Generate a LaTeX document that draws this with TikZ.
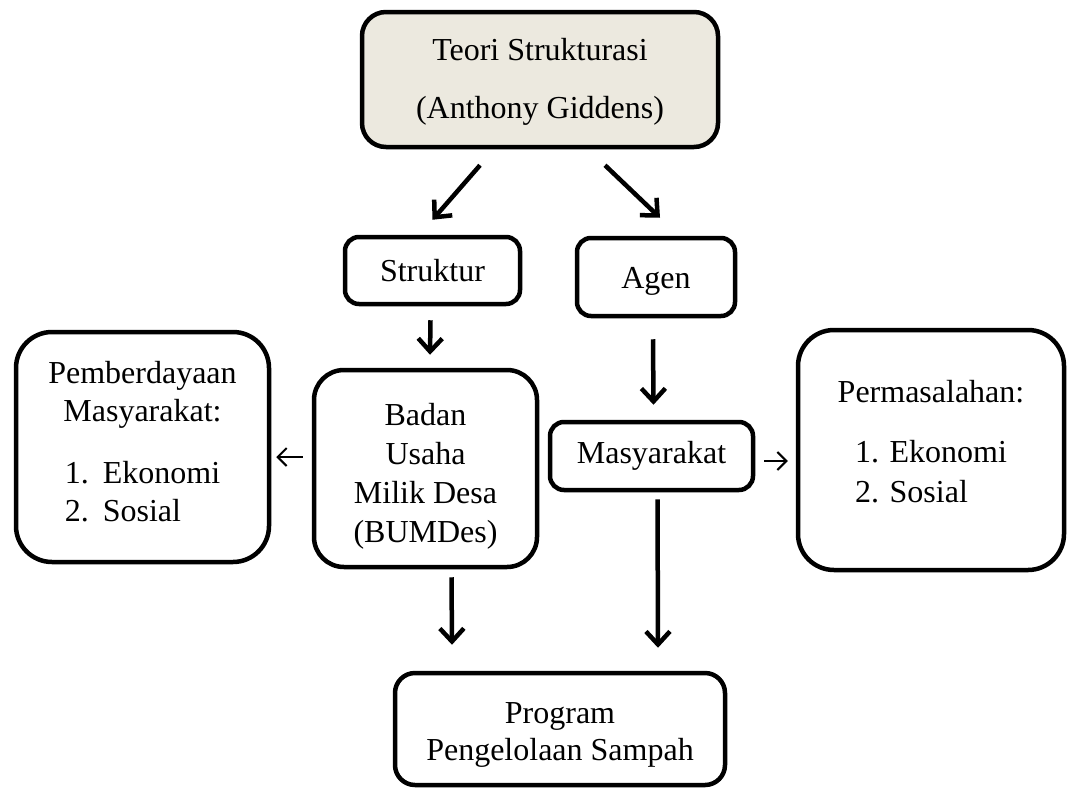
\documentclass[tikz,border=0pt]{standalone}
\usepackage{fontspec}
\setmainfont{Liberation Serif}
\usetikzlibrary{arrows.meta,positioning,calc}
\definecolor{beige}{HTML}{ECE9DF}
\tikzset{
  kotak/.style={draw=black,line width=4.5pt,rounded corners=14pt,fill=white,align=center,inner sep=0pt},
  teori/.style={kotak,fill=beige,rounded corners=24pt},
  arr/.style={-{Straight Barb[length=13pt,width=24pt]},line width=4.5pt},
  arrthin/.style={-{Straight Barb[length=9pt,width=18pt]},line width=2pt}
}

\begin{document}
\begin{tikzpicture}[x=1pt,y=-1pt,font=\fontsize{32}{38}\selectfont]
  \useasboundingbox (0,0) rectangle (1067,787);
  \node[teori,minimum width=356pt,minimum height=135pt] (teori) at (540,79.5) {\rule{0pt}{26pt}Teori Strukturasi\\[20pt](Anthony Giddens)};
  \node[kotak,minimum width=175pt,minimum height=67pt] (struktur) at (432.5,270.5) {Struktur};
  \node[kotak,minimum width=158pt,minimum height=78pt] (agen) at (656,277) {\rule{0pt}{29pt}Agen};
  \node[kotak,rounded corners=30pt,minimum width=223pt,minimum height=197pt,font=\fontsize{32}{39}\selectfont] (bumdes) at (425.5,468.5) {\rule{0pt}{37pt}Badan\\Usaha\\Milik Desa\\(BUMDes)};
  \node[kotak,minimum width=203pt,minimum height=68pt] (masy) at (651.5,456) {Masyarakat};
  % kotak kiri dan kanan
  \node[kotak,rounded corners=36pt,minimum width=253pt,minimum height=230pt] (berdaya) at (142.5,447) {Pemberdayaan\\Masyarakat:\\[24pt]\begin{tabular}[t]{@{}l@{}}1.\hspace{14pt}Ekonomi\\2.\hspace{14pt}Sosial\end{tabular}};
  \node[kotak,rounded corners=36pt,minimum width=266pt,minimum height=240pt] (masalah) at (931,450) {};
  \node[anchor=north,align=center,inner sep=0pt] (masalahtxt) at (931,380) {Permasalahan:\\[22pt]\begin{tabular}[t]{@{}l@{}}1. Ekonomi\\[2pt]2. Sosial\end{tabular}};
  \node[kotak,rounded corners=20pt,minimum width=330pt,minimum height=112pt,font=\fontsize{32}{37}\selectfont] (program) at (560,729) {\rule{0pt}{32pt}Program\\Pengelolaan Sampah};
  % panah
  \draw[arr] ($(teori.south)+(-60,16)$) -- ($(struktur.north)+(0,-15)$);
  \draw[arr] ($(teori.south)+(65,16)$) -- ($(agen.north)+(4,-18)$);
  \draw[arr] ($(struktur.south)+(-2,14)$) -- ($(bumdes.north)+(4.5,-13)$);
  \draw[arr] ($(agen.south)+(-3,21)$) -- ($(masy.north)+(2,-15)$);
  \draw[arr] ($(bumdes.south)+(26,8)$) -- ($(program.north)+(-108,-26)$);
  \draw[arr] ($(masy.south)+(6,7)$) -- ($(program.north)+(98,-23)$);
  \draw[arrthin] ($(bumdes.west)+(-9,-11.5)$) -- ($(berdaya.east)+(5,10)$);
  \draw[arrthin] ($(masy.east)+(9,5)$) -- ($(masalah.west)+(-8,11)$);
\end{tikzpicture}
\end{document}
